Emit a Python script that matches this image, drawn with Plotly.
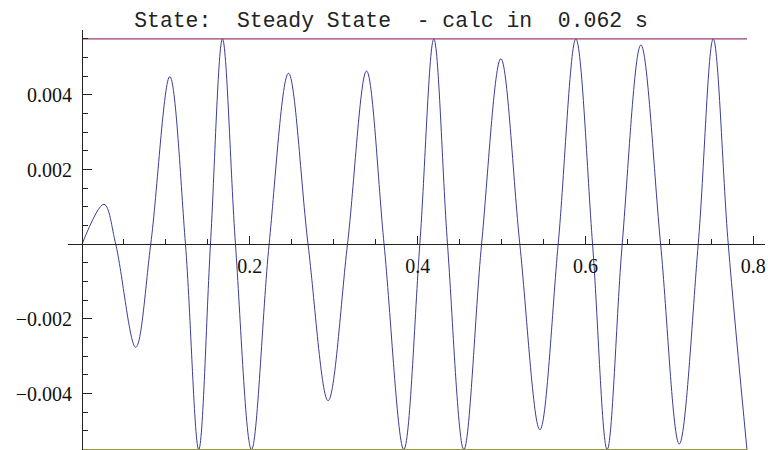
import plotly.graph_objects as go

# Signal key points (time in s, value)
t_pts = [0.0, 0.0262, 0.0402, 0.0640, 0.0819, 0.1046, 0.1233, 0.1391, 0.1531, 0.1674,
         0.1829, 0.2020, 0.2230, 0.2461, 0.2694, 0.2933, 0.3164, 0.3391, 0.3600, 0.3835,
         0.4026, 0.4193, 0.4356, 0.4551, 0.4762, 0.4992, 0.5218, 0.5457, 0.5675, 0.5886,
         0.6085, 0.6259, 0.6438, 0.6661, 0.6896, 0.7118, 0.7344, 0.7523, 0.7702, 0.7925]
v_pts = [0.0, 0.00107, 0.0, -0.00276, 0.0, 0.00449, 0.0, -0.0055, 0.0, 0.0055,
         0.0, -0.0055, 0.0, 0.00458, 0.0, -0.00419, 0.0, 0.00464, 0.0, -0.0055,
         0.0, 0.0055, 0.0, -0.0055, 0.0, 0.00497, 0.0, -0.00497, 0.0, 0.0055,
         0.0, -0.0055, 0.0, 0.00534, 0.0, -0.00535, 0.0, 0.0055, 0.0, -0.0055]

limit_t = [0.0, 0.7925]
upper_limit = [0.0055, 0.0055]
lower_limit = [-0.0055, -0.0055]

x_tickvals = [0.2, 0.4, 0.6, 0.8]
x_ticktext = ["0.2", "0.4", "0.6", "0.8"]
y_tickvals = [-0.004, -0.002, 0.002, 0.004]
y_ticktext = ["\u22120.004", "\u22120.002", "0.002", "0.004"]

title_text = "State:\u00a0\u00a0Steady State\u00a0\u00a0- calc in\u00a0\u00a00.062 s"

serif = "Times New Roman, Liberation Serif, serif"

fig = go.Figure()
fig.add_trace(go.Scatter(x=t_pts, y=v_pts, mode="lines",
                         line=dict(color="rgb(61,61,153)", width=1, shape="spline", smoothing=1.0),
                         hoverinfo="skip"))
fig.add_trace(go.Scatter(x=limit_t, y=upper_limit, mode="lines",
                         line=dict(color="rgb(153,61,112)", width=1.2), hoverinfo="skip"))
fig.add_trace(go.Scatter(x=limit_t, y=lower_limit, mode="lines",
                         line=dict(color="rgb(153,153,61)", width=1.2), hoverinfo="skip"))

xr = [-0.01669, 0.8140]
yr = [-0.005511, 0.00574]
ypos = (0 - xr[0]) / (xr[1] - xr[0])
xpos = (0 - yr[0]) / (yr[1] - yr[0])

axis_color = "#222222"
fig.update_layout(
    width=768, height=450,
    margin=dict(l=68, r=3, t=30, b=0),
    paper_bgcolor="white", plot_bgcolor="white",
    showlegend=False,
    title=dict(text=title_text, x=(391 - 68) / 697, xanchor="center", xref="paper",
               y=1 - 20 / 450, yref="container", yanchor="middle",
               font=dict(family="Courier New, Liberation Mono, monospace", size=21.4, color="#222222")),
    xaxis=dict(range=xr, anchor="free", position=xpos, showline=True, linecolor=axis_color,
               linewidth=1, showgrid=False, zeroline=False, ticks="inside", ticklen=8,
               tickcolor=axis_color, tickwidth=1, tickmode="array", tickvals=x_tickvals,
               ticktext=x_ticktext, ticklabelstandoff=4,
               tickfont=dict(family=serif, size=20, color="#111111"),
               minor=dict(tickmode="linear", tick0=0, dtick=0.05, ticks="inside", ticklen=5,
                          tickcolor=axis_color, tickwidth=1, showgrid=False)),
    yaxis=dict(range=yr, anchor="free", position=ypos, showline=True, linecolor=axis_color,
               linewidth=1, showgrid=False, zeroline=False, ticks="inside", ticklen=9,
               tickcolor=axis_color, tickwidth=1, tickmode="array", tickvals=y_tickvals,
               ticktext=y_ticktext, ticklabelstandoff=6,
               tickfont=dict(family=serif, size=20, color="#111111"),
               minor=dict(tickmode="linear", tick0=0, dtick=0.0005, ticks="inside", ticklen=5,
                          tickcolor=axis_color, tickwidth=1, showgrid=False)),
)

fig.write_html("out.html")
